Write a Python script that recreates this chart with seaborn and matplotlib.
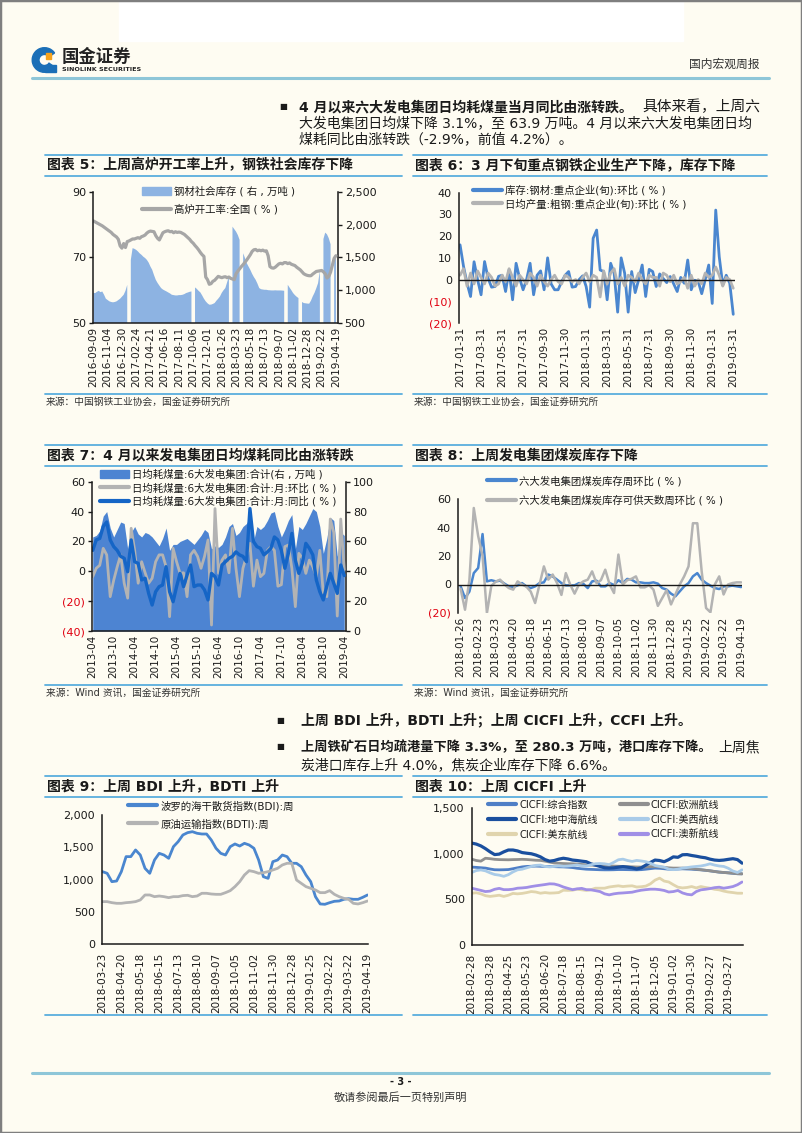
import numpy as np
import seaborn as sns
import matplotlib.pyplot as plt
from matplotlib.lines import Line2D
from matplotlib.patches import Patch, Rectangle, Wedge

# ---------------- 数据 ----------------
# 图表5：高炉开工率(左,%) / 钢材社会库存(右,万吨)，周度
c5_ticks = ['2016-09-09', '2016-11-04', '2016-12-30', '2017-02-24', '2017-04-21', '2017-06-16',
            '2017-08-11', '2017-10-06', '2017-12-01', '2018-01-26', '2018-03-23', '2018-05-18',
            '2018-07-13', '2018-09-07', '2018-11-02', '2018-12-28', '2019-02-22', '2019-04-19']
c5_furnace = [81.1, 80.8, 80.5, 80.2, 79.9, 79.6, 79.2, 78.8,
              78.4, 78.0, 77.6, 77.0, 76.6, 76.2, 75.5, 73.5,
              72.8, 74.2, 73.0, 74.8, 75.0, 75.3, 75.6, 75.6,
              75.8, 76.0, 75.8, 76.3, 76.5, 76.8, 77.4, 77.8,
              78.0, 77.9, 77.8, 76.6, 75.8, 75.3, 76.4, 77.5,
              77.8, 78.0, 78.1, 77.8, 77.9, 77.5, 77.8, 77.6,
              77.7, 77.6, 77.3, 77.0, 76.5, 76.0, 75.5, 74.8,
              74.3, 73.6, 73.0, 72.3, 71.5, 70.8, 70.3, 64.0,
              63.2, 61.8, 62.0, 62.7, 63.0, 63.6, 64.2, 64.0,
              63.8, 64.0, 64.1, 63.8, 64.0, 63.6, 63.4, 63.2,
              65.0, 65.8, 66.5, 67.2, 67.8, 68.5, 69.2, 70.0,
              70.8, 71.8, 72.3, 72.4, 72.0, 72.2, 72.0, 72.2,
              71.9, 72.0, 70.5, 67.2, 66.8, 66.7, 67.0, 67.5,
              68.0, 68.2, 68.0, 68.4, 68.4, 68.1, 68.3, 67.9,
              67.7, 67.5, 67.0, 66.6, 66.2, 65.6, 65.0, 64.7,
              64.5, 64.4, 64.4, 64.9, 65.3, 65.7, 65.8, 65.9,
              66.0, 65.6, 65.0, 63.7, 64.2, 65.5, 67.6, 69.7, 70.5]
c5_stock = [960, 955, 975, 990, 970, 980, 930, 870,
            850, 830, 820, 815, 820, 830, 850, 870,
            900, 930, 990, 1080, np.nan, 1460, 1640, 1630,
            1614, 1590, 1560, 1538, 1510, 1490, 1462, 1420,
            1360, 1310, 1230, 1158, 1110, 1070, 1032, 1010,
            995, 981, 965, 950, 930, 925, 920, 920,
            925, 925, 930, 940, 956, 965, 975, 981,
            np.nan, 1042, 1020, 990, 966, 920, 870, 830,
            800, 779, 780, 790, 804, 840, 870, 905,
            960, 1000, 1032, 1120, 1209, np.nan, 1968, 1930,
            1892, 1840, 1766, np.nan, 1563, 1490, 1412, 1360,
            1310, 1250, 1200, 1158, 1100, 1032, 1015, 1010,
            1006, 1006, 1000, 998, 996, 996, 998, 996,
            996, 996, 994, 991, np.nan, 1082, 1040, 1000,
            956, 925, 900, 880, np.nan, 820, 804, 800,
            796, 794, 840, 905, 960, 1030, 1108, 1300,
            np.nan, 1780, 1877, 1850, 1791, 1700, np.nan, 1513, 1470]

# 图表6：重点企业(旬)环比，%
c6_ticks = ['2017-01-31', '2017-03-31', '2017-05-31', '2017-07-31', '2017-09-30', '2017-11-30',
            '2018-01-31', '2018-03-31', '2018-05-31', '2018-07-31', '2018-09-30', '2018-11-30',
            '2019-01-31', '2019-03-31']
c6_stock = [16, 6, -1.7, -7.8, 8.2, 0, -7, 8.3, 0.6, -3.5, -3.2, 1.5,
            2, -5.5, 4.5, -9.3, 7.5, 0.6, -4.7, 0, 7.5, -7, 2, 4, -4.7, 10, -2,
            -4.7, -4.7, -1, 2, 3.7, -3.5, -3.2, 0, 1.7, -3.2, -12.7, 19, 22.8,
            4.4, 3.7, -9.3, 7.5, 2.9, -15, 10, 2.9, -15, 3.7, -6, 0, 6.7, -7.8,
            4.7, 3.7, -3.2, 2.6, 0.5, -1.4, 1.4, -2, -5.5, 1, -1.7, 9, -4.7, -0.3,
            -0.9, -6.5, 0, 6.7, -11, 32, 10.5, -2.5, 2, -1.7, -16]
c6_output = [2, 5, -3, 3, -2, 4, 1, -2, 3, 1, -3, -2, 2, -1, 5, 1, -3, 2, 0, -2,
             3, 1, -3, 2, -1, -3, 0, 2, -1, -2, 2, 1, -1, 0, -2, 1, 3, -1, 2, 1,
             -8, 4, -2, 3, 5, -2, 1, -3, 2, 1, -1, 3, 0, -2, 2, 1, 1, -3, 3, 2,
             -1, 2, -2, -1, 1, -4, 2, -3, 0, -2, 3, 1, 2, 5.8, 2, -3, 1, 0, -4]

# 图表7：六大发电集团日均耗煤量，月度
c7_ticks = ['2013-04', '2013-10', '2014-04', '2014-10', '2015-04', '2015-10', '2016-04',
            '2016-10', '2017-04', '2017-10', '2018-04', '2018-10', '2019-04']
c7_coal = [63, 64, 67, 77, 80, 69, 63, 68, 73,
           72, 55, 66, 70, 65, 63, 66, 65, 63, 60, 57, 62,
           69, 54, 58, 58, 60, 61, 62, 60, 58, 61, 64, 68,
           66, 55, 57, 56, 58, 63, 70, 72, 64, 66, 70, 72,
           76, 60, 70, 68, 70, 74, 79, 80, 70, 63, 68, 74,
           78, 55, 70, 68, 72, 77, 82, 80, 70, 52, 62, 76,
           74, 50, 66, 64]
c7_mom = [-3.6, 2, 4, 15.4, 11, -17, -6, 3, 11, -8, -18, 28.8, 14, -8, 6.4, -1, -8, -4.7,
          6.4, 11, 11, 3, -30.4, 15.4, 6.4, -1.4, -1, -17, 11, 14, 10, 2, 10, 21, -36, 42,
          -1.4, 7.5, 11, -1, 28.8, 2, -17, 2, 10, 18.7, -10, 7.5, -3.6, -1.4, 14, 16.5, 14,
          -10, -9, 16.5, 17.6, 2, -23.7, 12, 8.7, -1.4, 7.5, 3, -3.6, 14, -14.8, -17, 35,
          26, -30, 35, 1]
c7_yoy = [14, 21, 22, 30, 33, 21, 16.5, 14, 10, 8.7, -0.3, 21, 6.4, 5.3, -5.8, -4.7, -14.8,
          -22.6, -13.7, -10.3, -9.2, 3.1, -13.7, -20.4, -10.3, -1.4, -10.3, -2.5, 4.2, -10.3,
          -9.2, -9.2, -12.5, -19.2, -1.4, -3.6, -9.2, 4.2, 6.4, 8.7, 10, 13, 11, 10, 6.4, 42,
          20, 16.5, 15.4, 11, 13, 15.4, 23, 21, 14, 2, 12, 25.4, 7.5, -1.4, 5.3,
          18.7, 15.4, 11, -5.8, -13.7, -19.2, -10, -1.4, -8, -14.8, 4.2, -2.9]

# 图表8：六大发电集团煤炭库存，周度环比 %
c8_ticks = ['2018-01-26', '2018-02-23', '2018-03-23', '2018-04-20', '2018-05-18', '2018-06-15',
            '2018-07-13', '2018-08-10', '2018-09-07', '2018-10-05', '2018-11-02', '2018-11-30',
            '2018-12-28', '2019-01-25', '2019-02-22', '2019-03-22', '2019-04-19']
c8_stock = [-1.3, -9.5, -5, 8, 11.6, 35.4, 2.2, 3, 2.2, 2.7,
            0.6, -1.3, -1.8, -0.6, 1, -1.3, -2.5, -1.3, 1, 1.5,
            7, 5.7, 3.4, 1, -0.6, -0.6, -0.6, 1, 0.5, -2.5,
            2.2, 2.7, -1.3, -1.3, 1, -0.4, 3, 1, 3.9, 3.4,
            1.5, 1.5, 1, 1, 1.5, 0.6, -2.5, -3.6, -6.4, -8.3,
            -4.8, -1.3, 1, 5.7, 8, 3.4, 1, -0.8, -2.5, -3.2,
            -1.3, -1.3, -0.8, -1.3, -1.8]
c8_days = [-3, -17.7, 3, 53.7, 34, 20, -20, -1, 2, 3.4,
           0, -2.5, -3.6, 2.2, 0, -1.5, -5, -13, 0, 12.7,
           3.4, 7, 1, -7.3, 8, 0, -6.4, 0, 2.2, 3.4,
           9.2, 1, 3, 10.4, 0, -6, 21, 0, 3, 4,
           5.7, -2, -2, -0.5, -3.6, -15, -9.5, -4, -14, -7,
           0, 5.7, 12.7, 43, 43, 9.2, -16.5, -19.5, 0, 5.7,
           -7, 0, 1, 1.5, 1.5]

# 图表9：BDI / BDTI 周度
c9_ticks = ['2018-03-23', '2018-04-20', '2018-05-18', '2018-06-15', '2018-07-13', '2018-08-10',
            '2018-09-07', '2018-10-05', '2018-11-02', '2018-11-30', '2018-12-28', '2019-01-25',
            '2019-02-22', '2019-03-22', '2019-04-19']
c9_bdi = [1124, 1098, 969, 979, 1124, 1356, 1356, 1459, 1381, 1175,
          1098, 1304, 1407, 1381, 1330, 1510, 1588, 1691, 1727, 1742,
          1717, 1706, 1706, 1613, 1485, 1407, 1381, 1510, 1552, 1520,
          1562, 1536, 1485, 1304, 1046, 1020, 1278, 1304, 1381, 1356,
          1253, 1253, 1201, 1072, 969, 737, 624, 619, 644, 665,
          670, 696, 706, 696, 696, 727, 763]
c9_bdti = [660, 660, 644, 634, 634, 644, 650, 660, 686, 763,
           763, 737, 747, 737, 722, 737, 737, 753, 758, 737,
           747, 789, 789, 778, 773, 773, 799, 830, 892, 969,
           1072, 1139, 1124, 1098, 1108, 1124, 1150, 1175, 1227, 1253,
           1253, 995, 943, 892, 866, 840, 799, 799, 830, 773,
           737, 711, 696, 634, 624, 644, 670]

# 图表10：CICFI 周度
c10_ticks = ['2018-02-28', '2018-03-28', '2018-04-25', '2018-05-23', '2018-06-20', '2018-07-18',
             '2018-08-15', '2018-09-12', '2018-10-10', '2018-11-07', '2018-12-05', '2019-01-02',
             '2019-01-30', '2019-02-27', '2019-03-27']
c10_total = [853, 850, 846, 842, 832, 824, 823, 824, 826, 835,
             845, 855, 860, 862, 864, 862, 860, 860, 858, 856,
             855, 852, 848, 840, 835, 830, 828, 826, 824, 823,
             823, 824, 826, 826, 825, 824, 823, 825, 830, 836,
             842, 840, 835, 830, 830, 832, 834, 832, 830, 826,
             823, 818, 812, 805, 798, 794, 790, 785, 780, 779]
c10_europe = [940, 925, 918, 950, 945, 938, 935, 934, 933, 935,
              936, 938, 936, 932, 928, 926, 918, 908, 898, 895,
              892, 890, 889, 886, 882, 878, 875, 872, 869, 867,
              866, 864, 862, 860, 858, 856, 854, 853, 855, 858,
              860, 856, 850, 845, 842, 842, 842, 840, 836, 830,
              824, 818, 812, 805, 798, 794, 790, 786, 781, 779]
c10_med = [1116, 1105, 1085, 1055, 1020, 990, 995, 1020, 1040, 1040,
           1030, 1012, 1005, 999, 985, 965, 935, 918, 925, 940,
           950, 942, 930, 925, 918, 912, 889, 875, 860, 845,
           842, 845, 852, 858, 852, 845, 832, 845, 875, 904,
           930, 925, 912, 935, 965, 960, 988, 990, 980, 972,
           962, 955, 940, 930, 926, 930, 938, 945, 935, 896]
c10_uswest = [794, 815, 822, 812, 790, 772, 765, 752, 770, 800,
              823, 830, 845, 860, 872, 875, 860, 855, 860, 866,
              862, 865, 870, 876, 866, 865, 878, 890, 892, 889,
              880, 905, 933, 940, 925, 915, 926, 920, 912, 896,
              870, 860, 852, 830, 825, 830, 842, 848, 855, 860,
              865, 875, 889, 875, 865, 860, 840, 810, 794, 823]
c10_useast = [567, 572, 560, 540, 532, 538, 545, 532, 545, 565,
              560, 565, 574, 585, 580, 567, 574, 568, 570, 574,
              600, 598, 600, 611, 604, 598, 605, 622, 622, 622,
              635, 642, 648, 640, 645, 648, 635, 638, 645, 670,
              710, 732, 700, 690, 660, 633, 625, 630, 640, 625,
              640, 630, 622, 610, 604, 590, 580, 574, 567, 567]
c10_aus = [622, 610, 598, 585, 590, 610, 620, 606, 606, 611,
           622, 625, 630, 640, 648, 655, 662, 670, 668, 655,
           635, 620, 606, 615, 620, 606, 604, 595, 585, 560,
           549, 560, 567, 570, 574, 578, 590, 600, 606, 611,
           611, 606, 597, 580, 585, 597, 570, 555, 549, 585,
           604, 610, 618, 628, 633, 622, 630, 640, 660, 690]

# ---------------- 样式 ----------------
W, H = 802, 1133
BG = '#fefcf2'
INK = '#1a1a1a'
RULE = '#5aaede'
PAGE_RULE = '#8ec6d8'
RED = '#e00010'
BLUE = '#4a86cf'
GRAY = '#b3b3b3'

sns.set_style('white')
plt.rcParams['font.family'] = ['DejaVu Sans', 'Noto Sans CJK SC']
plt.rcParams['axes.unicode_minus'] = False

fig = plt.figure(figsize=(W / 100, H / 100), dpi=100, facecolor=BG)


def box(x0, y0, x1, y1):
    ax = fig.add_axes([x0 / W, 1 - y1 / H, (x1 - x0) / W, (y1 - y0) / H])
    ax.set_facecolor('none')
    return ax


def put(x, y, s, size=8, weight='normal', ha='left', color=INK, **kw):
    fig.text(x / W, 1 - y / H, s, fontsize=size, fontweight=weight, ha=ha, va='center',
             color=color, **kw)


def hline(x0, x1, y, color=RULE, lw=1.3):
    fig.add_artist(Line2D([x0 / W, x1 / W], [1 - y / H, 1 - y / H], color=color, lw=lw,
                          transform=fig.transFigure))


def frame(x0, x1, top, title, bottom, source=None):
    hline(x0, x1, top)
    put(x0 + 2, top + 10.5, title, size=10, weight='bold')
    hline(x0, x1, top + 21)
    hline(x0, x1, bottom)
    if source:
        put(x0 + 1, bottom + 8, source, size=7, color='#333333')


def lab(v):
    return f'({abs(v):,.0f})' if v < 0 else f'{v:,.0f}'


def dress(ax, left=True, bottom=False, right=False):
    for k, s in ax.spines.items():
        s.set_visible(False)
        s.set_color(INK)
        s.set_linewidth(1.1)
    ax.spines['left'].set_visible(left)
    ax.spines['bottom'].set_visible(bottom)
    ax.spines['right'].set_visible(right)
    ax.tick_params(axis='y', direction='out', length=3, width=1, labelsize=8, pad=2, colors=INK)
    ax.tick_params(axis='x', length=0, labelsize=7.5, pad=3, colors=INK)
    ax.grid(False)
    ax.set_xlabel('')
    ax.set_ylabel('')


def set_y(ax, vals):
    ax.set_yticks(vals)
    ax.set_yticklabels([lab(v) for v in vals])
    for t, v in zip(ax.get_yticklabels(), vals):
        if v < 0:
            t.set_color(RED)


def set_x(ax, step, labels):
    ax.set_xticks(range(0, step * len(labels), step))
    ax.set_xticklabels(labels, rotation=90)


def legend(ax, handles, labels, x, y, ls, hl=2.8, ncol=1, cs=1.0, fs=7.5):
    leg = ax.legend(handles, labels, loc='upper left', bbox_to_anchor=(x / W, 1 - y / H),
                    bbox_transform=fig.transFigure, frameon=False, fontsize=fs, handlelength=hl,
                    handletextpad=0.3, labelspacing=ls, borderpad=0, borderaxespad=0, ncol=ncol,
                    columnspacing=cs, handleheight=0.9)
    for t in leg.get_texts():
        t.set_color(INK)
    return leg


# ---------------- 页眉 ----------------
fig.add_artist(Rectangle((119 / W, 1 - 41 / H), (683 - 119) / W, 41 / H, color='white',
                         transform=fig.transFigure))
fig.add_artist(Rectangle((0, 0), 1, 1, fill=False, ec='#7f7f7f', lw=2.5,
                         transform=fig.transFigure))
icon = box(31, 46, 58, 74)
icon.set_xlim(-1.1, 1.1)
icon.set_ylim(-1.1, 1.1)
icon.set_aspect('equal')
icon.axis('off')
icon.add_patch(Wedge((0, 0), 1.0, 35, 325, width=0.55, color='#1b6fb7'))
icon.add_patch(Rectangle((0.05, -0.95), 0.9, 0.55, color='#1b6fb7'))
icon.add_patch(Rectangle((0.12, 0.12), 0.45, 0.45, color='#f5a21b'))
put(62, 57, '国金证券', size=12.5, weight='bold', color='#222222')
put(62, 69.5, 'SINOLINK SECURITIES', size=4.6, weight='bold', color='#222222')
put(760, 64, '国内宏观周报', size=8.5, ha='right', color='#333333')
hline(32, 769, 78, PAGE_RULE, 2.2)

put(279, 107, '■', size=6)
put(299, 107, '4 月以来六大发电集团日均耗煤量当月同比由涨转跌。', size=10, weight='bold')
put(760, 107, '具体来看，上周六', size=10.6, ha='right')
put(299, 123, '大发电集团日均煤下降 3.1%，至 63.9 万吨。4 月以来六大发电集团日均', size=10)
put(299, 139, '煤耗同比由涨转跌（-2.9%，前值 4.2%）。', size=10)

# ---------------- 图表5 ----------------
frame(45, 402, 155, '图表 5：上周高炉开工率上升，钢铁社会库存下降', 394,
      '来源：中国钢铁工业协会，国金证券研究所')
ax = box(93, 191.7, 337.7, 323)
ax2 = ax.twinx()
x5 = np.arange(len(c5_furnace))
ax2.fill_between(x5, 0, c5_stock, color='#8db3e2', lw=0)
sns.lineplot(x=x5, y=c5_furnace, ax=ax, color='#a6a6a6', linewidth=2.3)
ax.set_zorder(ax2.get_zorder() + 1)
ax.patch.set_visible(False)
dress(ax, left=True, bottom=True)
dress(ax2, left=False, right=True)
ax.set_ylim(50, 90)
ax2.set_ylim(500, 2500)
set_y(ax, [50, 70, 90])
set_y(ax2, [500, 1000, 1500, 2000, 2500])
ax.set_xlim(-0.2, 137)
set_x(ax, 8, c5_ticks)
legend(ax, [Patch(color='#8db3e2'), Line2D([], [], color='#a6a6a6', lw=3)],
       ['钢材社会库存 ( 右 , 万吨 )', '高炉开工率:全国 ( % )'], 142, 186, 0.75)

# ---------------- 图表6 ----------------
frame(413, 767, 155, '图表 6：3 月下旬重点钢铁企业生产下降，库存下降', 394,
      '来源：中国钢铁工业协会，国金证券研究所')
ax = box(459, 192.7, 735, 323)
x6 = np.arange(len(c6_stock))
sns.lineplot(x=x6, y=c6_stock, ax=ax, color=BLUE, linewidth=2)
sns.lineplot(x=x6, y=c6_output, ax=ax, color=GRAY, linewidth=2)
ax.axhline(0, color=INK, lw=1)
dress(ax)
ax.set_ylim(-20, 40)
set_y(ax, [-20, -10, 0, 10, 20, 30, 40])
ax.set_xlim(-0.3, 78.5)
set_x(ax, 6, c6_ticks)
legend(ax, [Line2D([], [], color=BLUE, lw=3), Line2D([], [], color=GRAY, lw=3)],
       ['库存:钢材:重点企业(旬):环比 ( % )', '日均产量:粗钢:重点企业(旬):环比 ( % )'],
       473, 185, 0.3)

# ---------------- 图表7 ----------------
frame(45, 402, 445, '图表 7：4 月以来发电集团日均煤耗同比由涨转跌', 685,
      '来源：Wind 资讯，国金证券研究所')
ax = box(91.7, 481.7, 346, 631)
ax2 = ax.twinx()
x7 = np.arange(len(c7_coal))
ax2.fill_between(x7, 0, c7_coal, color='#4d84d2', lw=0)
sns.lineplot(x=x7, y=c7_mom, ax=ax, color=GRAY, linewidth=2)
sns.lineplot(x=x7, y=c7_yoy, ax=ax, color='#1565c6', linewidth=2.4)
ax.set_zorder(ax2.get_zorder() + 1)
ax.patch.set_visible(False)
dress(ax, left=True, bottom=True)
dress(ax2, left=False, right=True)
ax.set_ylim(-40, 60)
ax2.set_ylim(0, 100)
set_y(ax, [-40, -20, 0, 20, 40, 60])
set_y(ax2, [0, 20, 40, 60, 80, 100])
ax.set_xlim(-0.3, 72.5)
set_x(ax, 6, c7_ticks)
legend(ax, [Patch(color='#4d84d2'), Line2D([], [], color=GRAY, lw=3),
            Line2D([], [], color='#1565c6', lw=3)],
       ['日均耗煤量:6大发电集团:合计(右 , 万吨 )', '日均耗煤量:6大发电集团:合计:月:环比 ( % )',
        '日均耗煤量:6大发电集团:合计:月:同比 ( % )'], 100, 469, 0.28)

# ---------------- 图表8 ----------------
frame(413, 767, 445, '图表 8：上周发电集团煤炭库存下降', 685, '来源：Wind 资讯，国金证券研究所')
ax = box(458, 499, 742, 613)
x8 = np.arange(len(c8_stock))
sns.lineplot(x=x8, y=c8_stock, ax=ax, color=BLUE, linewidth=1.8)
sns.lineplot(x=x8, y=c8_days, ax=ax, color=GRAY, linewidth=1.8)
ax.axhline(0, color=INK, lw=1)
dress(ax)
ax.set_ylim(-20, 60)
set_y(ax, [-20, 0, 20, 40, 60])
ax.set_xlim(-0.6, 64.2)
set_x(ax, 4, c8_ticks)
legend(ax, [Line2D([], [], color=BLUE, lw=3), Line2D([], [], color=GRAY, lw=3)],
       ['六大发电集团煤炭库存周环比 ( % )', '六大发电集团煤炭库存可供天数周环比 ( % )'],
       487, 475.5, 0.85)

# ---------------- 要点 ----------------
put(276, 720, '■', size=6)
put(301, 720, '上周 BDI 上升，BDTI 上升；上周 CICFI 上升，CCFI 上升。', size=10, weight='bold')
put(276, 747, '■', size=6)
put(301, 747, '上周铁矿石日均疏港量下降 3.3%，至 280.3 万吨，港口库存下降。', size=9.5,
    weight='bold')
put(760, 747, '上周焦', size=10, ha='right')
put(301, 765, '炭港口库存上升 4.0%，焦炭企业库存下降 6.6%。', size=10)

# ---------------- 图表9 ----------------
frame(45, 402, 776, '图表 9：上周 BDI 上升，BDTI 上升', 1015)
ax = box(101.7, 815, 368, 944.3)
x9 = np.arange(len(c9_bdi))
sns.lineplot(x=x9, y=c9_bdi, ax=ax, color=BLUE, linewidth=2)
sns.lineplot(x=x9, y=c9_bdti, ax=ax, color=GRAY, linewidth=2)
dress(ax, left=True, bottom=True)
ax.tick_params(axis='x', length=3, width=1, direction='out')
ax.set_ylim(0, 2000)
set_y(ax, [0, 500, 1000, 1500, 2000])
ax.set_xlim(-0.15, 56.1)
set_x(ax, 4, c9_ticks)
legend(ax, [Line2D([], [], color=BLUE, lw=3), Line2D([], [], color=GRAY, lw=3)],
       ['波罗的海干散货指数(BDI):周', '原油运输指数(BDTI):周'], 128, 800.5, 0.72)

# ---------------- 图表10 ----------------
frame(413, 767, 776, '图表 10：上周 CICFI 上升', 1015)
ax = box(471.7, 808, 743, 945)
x10 = np.arange(len(c10_total))
c10 = [('CICFI:综合指数', c10_total, '#4f7fc6', 2),
       ('CICFI:欧洲航线', c10_europe, '#8f8f8f', 2),
       ('CICFI:地中海航线', c10_med, '#1a4f9e', 2.3),
       ('CICFI:美西航线', c10_uswest, '#a9cbe8', 2),
       ('CICFI:美东航线', c10_useast, '#e0d4ad', 2),
       ('CICFI:澳新航线', c10_aus, '#a08fe6', 2)]
for name, vals, col, lw in c10:
    sns.lineplot(x=x10, y=vals, ax=ax, color=col, linewidth=lw)
dress(ax, left=True, bottom=True)
ax.tick_params(axis='x', length=3, width=1, direction='out')
ax.set_ylim(0, 1500)
set_y(ax, [0, 500, 1000, 1500])
ax.set_xlim(0, 59.2)
set_x(ax, 4, c10_ticks)
order = [0, 2, 4, 1, 3, 5]
legend(ax, [Line2D([], [], color=c10[i][2], lw=3) for i in order],
       [c10[i][0] for i in order], 488, 800, 0.48, ncol=2, cs=2.2, fs=7.2)

# ---------------- 页脚 ----------------
hline(32, 769, 1073, PAGE_RULE, 2.2)
put(401, 1082, '- 3 -', size=7, weight='bold', ha='center')
put(401, 1098, '敬请参阅最后一页特别声明', size=8, ha='center', color='#333333')

fig.savefig('out.png', dpi=100, facecolor=BG)
